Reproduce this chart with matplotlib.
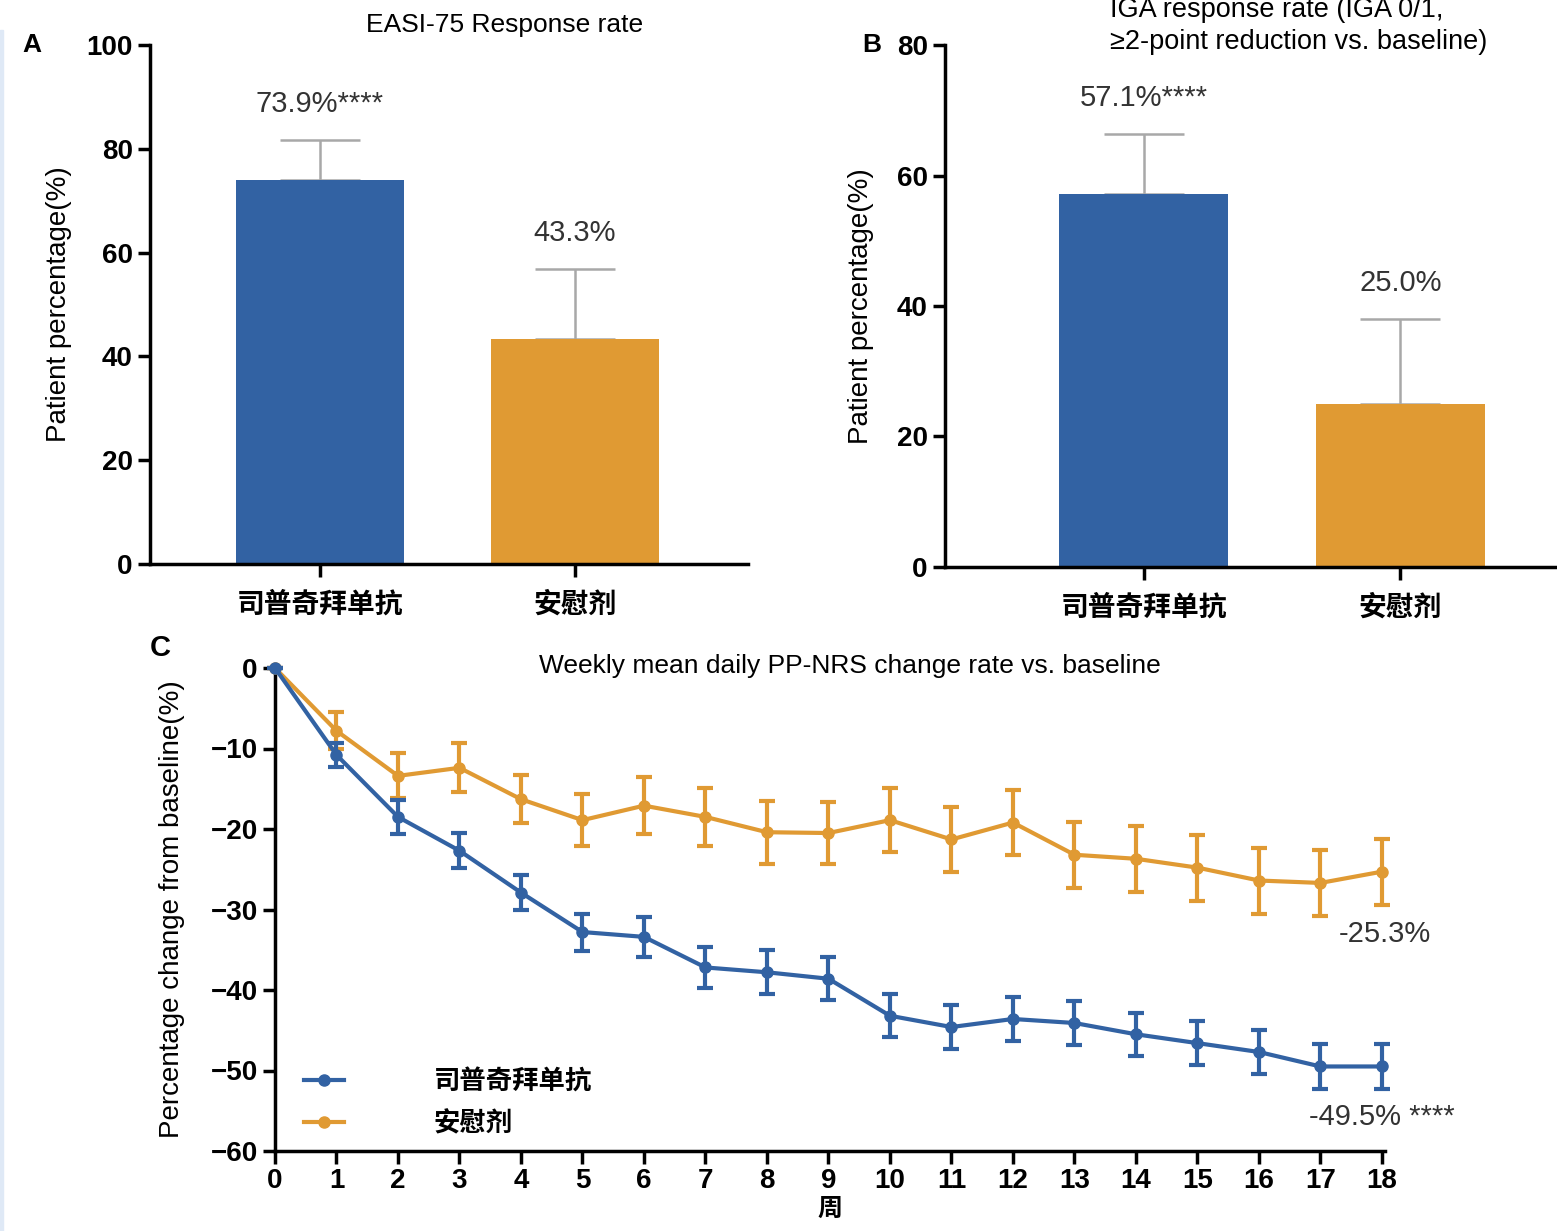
import numpy as np
import matplotlib
matplotlib.use("Agg")
import matplotlib.pyplot as plt
from matplotlib.lines import Line2D
from matplotlib.patches import Rectangle

plt.rcParams['font.family'] = ['Liberation Sans', 'Noto Sans CJK SC', 'DejaVu Sans']

# ---- data ----
groups = ['司普奇拜单抗', '安慰剂']
easi_vals = [73.9, 43.3]
easi_err = [7.8, 13.5]
easi_labels = ['73.9%****', '43.3%']
iga_vals = [57.1, 25.0]
iga_err = [9.3, 13.0]
iga_labels = ['57.1%****', '25.0%']

weeks = list(range(0, 19))
drug_mean = [0, -10.8, -18.5, -22.7, -27.9, -32.8, -33.4, -37.2, -37.8, -38.6,
             -43.2, -44.6, -43.6, -44.1, -45.5, -46.6, -47.7, -49.5, -49.5]
drug_err = [0, 1.5, 2.1, 2.15, 2.2, 2.3, 2.45, 2.6, 2.75, 2.65,
            2.65, 2.7, 2.7, 2.7, 2.7, 2.75, 2.75, 2.8, 2.8]
plac_mean = [0, -7.8, -13.4, -12.4, -16.3, -18.9, -17.1, -18.5, -20.4, -20.5,
             -18.9, -21.3, -19.2, -23.2, -23.7, -24.8, -26.4, -26.7, -25.3]
plac_err = [0, 2.3, 2.8, 3.05, 3.0, 3.2, 3.5, 3.6, 3.9, 3.9,
            3.95, 4.0, 4.0, 4.1, 4.1, 4.1, 4.1, 4.1, 4.1]

blue = '#3262a3'
orange = '#e09a33'
W, H = 1557, 1231

fig = plt.figure(figsize=(W / 100, H / 100), dpi=100)
# faint strip on the left edge of the original screenshot
fig.patches.append(Rectangle((0, 0), 3 / W, 1 - 30 / H, transform=fig.transFigure,
                             color='#dfe9f6', zorder=0))


def rect(l, r, t, b):
    return [l / W, 1 - b / H, (r - l) / W, (b - t) / H]


def style(ax):
    for s in ['top', 'right']:
        ax.spines[s].set_visible(False)
    for s in ['left', 'bottom']:
        ax.spines[s].set_linewidth(2.5)
    ax.tick_params(width=2.5, length=9, labelsize=20)
    for t in ax.get_yticklabels():
        t.set_fontweight('bold')


def bar_panel(ax, vals, err, labels, ymax, step, xl, xr, ylabel, lpad):
    x = np.arange(len(vals))
    ax.bar(x, vals, width=0.66, color=[blue, orange], zorder=2)
    ax.errorbar(x, vals, yerr=[[0] * len(err), err], fmt='none', ecolor='#a8a8a8',
                elinewidth=1.8, capsize=29, capthick=1.8, zorder=1)
    for xi, v, e, lab in zip(x, vals, err, labels):
        ax.text(xi, v + e + 4.2 * ymax / 100, lab, ha='center', va='bottom',
                fontsize=21, color='#333333')
    ax.set_xlim(xl, xr)
    ax.set_ylim(0, ymax)
    ax.set_yticks(np.arange(0, ymax + 1, step))
    ax.set_xticks(x)
    ax.set_xticklabels(groups, fontfamily='Noto Sans CJK SC', fontweight='bold', fontsize=19)
    ax.tick_params(axis='x', pad=10)
    ax.set_ylabel(ylabel, fontsize=20, labelpad=lpad)
    style(ax)


# ---- panel A ----
axA = fig.add_axes(rect(150, 748, 45, 564))
bar_panel(axA, easi_vals, easi_err, easi_labels, 100, 20, -0.667, 1.68,
          'Patient percentage(%)', 10)
fig.text(505 / W, 1 - 25 / H, 'EASI-75 Response rate', ha='center', va='center', fontsize=19)
fig.text(22 / W, 1 - 45 / H, 'A', fontsize=19, fontweight='bold', va='center')

# ---- panel B ----
axB = fig.add_axes(rect(945, 1557, 45, 567))
bar_panel(axB, iga_vals, iga_err, iga_labels, 80, 20, -0.774, 1.61,
          'Patient percentage(%)', 16)
fig.text(1110 / W, 1 - 26 / H, 'IGA response rate (IGA 0/1,\n≥2-point reduction vs. baseline)',
         ha='left', va='center', fontsize=19.5, linespacing=1.3,
         family=['Liberation Sans', 'DejaVu Sans'])
fig.text(862 / W, 1 - 45 / H, 'B', fontsize=19, fontweight='bold', va='center')

# ---- panel C ----
axC = fig.add_axes(rect(275, 1385, 668, 1151))
axC.errorbar(weeks, plac_mean, yerr=plac_err, color=orange, lw=3, marker='o', ms=8,
             elinewidth=3, capsize=6, capthick=3, clip_on=False, zorder=3)
axC.errorbar(weeks, drug_mean, yerr=drug_err, color=blue, lw=3, marker='o', ms=8,
             elinewidth=3, capsize=6, capthick=3, clip_on=False, zorder=4)
axC.set_xlim(0, 18.05)
axC.set_ylim(-60, 0)
axC.set_xticks(weeks)
axC.set_yticks(np.arange(-60, 1, 10))
style(axC)
for t in axC.get_xticklabels():
    t.set_fontweight('bold')
axC.set_xlabel('周', fontfamily='Noto Sans CJK SC', fontweight='bold', fontsize=18, labelpad=2)
axC.set_ylabel('Percentage change from baseline(%)', fontsize=20, labelpad=18)
axC.text(18.8, plac_mean[-1] - 7.8, '-25.3%', ha='right', va='center', fontsize=21, color='#333333')
axC.text(18.0, drug_mean[-1] - 6.3, '-49.5% ****', ha='center', va='center', fontsize=21, color='#333333')

handles = [Line2D([], [], color=blue, lw=3, marker='o', ms=8),
           Line2D([], [], color=orange, lw=3, marker='o', ms=8)]
axC.legend(handles, groups, loc='lower left', bbox_to_anchor=(0.005, -0.02), frameon=False,
           handlelength=1.5, handletextpad=3.4, labelspacing=0.55,
           prop={'family': 'Noto Sans CJK SC', 'weight': 'bold', 'size': 19})

fig.text(150 / W, 1 - 648 / H, 'C', fontsize=21, fontweight='bold', va='center')
fig.text(850 / W, 1 - 666 / H, 'Weekly mean daily PP-NRS change rate vs. baseline',
         ha='center', va='center', fontsize=19)

fig.savefig('out.png', dpi=100)
